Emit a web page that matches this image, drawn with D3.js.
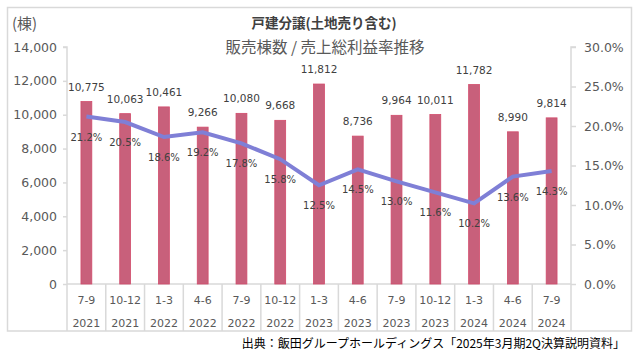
<!DOCTYPE html>
<html><head><meta charset="utf-8">
<script src="https://cdn.jsdelivr.net/npm/d3@7"></script>
<style>body{margin:0;background:#fff;} svg{display:block;}</style>
</head><body>
<svg id="c" width="640" height="360"></svg>
<script>
const periods = ["7-9","10-12","1-3","4-6","7-9","10-12","1-3","4-6","7-9","10-12","1-3","4-6","7-9"];
const years = ["2021","2021","2022","2022","2022","2022","2023","2023","2023","2023","2024","2024","2024"];
const units = [10775,10063,10461,9266,10080,9668,11812,8736,9964,10011,11782,8990,9814];
const margin = [21.2,20.5,18.6,19.2,17.8,15.8,12.5,14.5,13.0,11.6,10.2,13.6,14.3];
const leftTicks = [0,2000,4000,6000,8000,10000,12000,14000];
const rightTicks = [0,5,10,15,20,25,30];

const svg = d3.select("#c");
const font = "'DejaVu Sans', Verdana, sans-serif";
const jp = "'Noto Sans CJK JP', sans-serif";
const L = 67, R = 571, T = 47, B = 284, BOT = 331;
const idx = d3.range(units.length);

svg.append("rect").attr("x",7.5).attr("y",7.5).attr("width",624).attr("height",323.5)
  .attr("fill","#fff").attr("stroke","#d9d9d9").attr("stroke-width",1.5);

const x = d3.scaleBand().domain(idx).range([L,R]).paddingInner(0.72).paddingOuter(0.36);
const xb = d3.scaleBand().domain(idx).range([L,R]);
const y = d3.scaleLinear().domain([0,14000]).range([B,T]);
const y2 = d3.scaleLinear().domain([0,30]).range([B,T]);

// left axis
const la = svg.append("g").attr("transform",`translate(${L},0)`)
  .call(d3.axisLeft(y).tickValues(leftTicks).tickFormat(d3.format(",")).tickSize(4).tickPadding(6));
la.select(".domain").attr("stroke","#d9d9d9").attr("stroke-width",1.5).attr("d",`M-4,${T}H0V${BOT}`);
la.selectAll(".tick line").attr("stroke","#d9d9d9").attr("stroke-width",1.5);
la.selectAll(".tick text").attr("fill","#595959").attr("font-size","12.5px").attr("font-family",font);

// right axis
const ra = svg.append("g").attr("transform",`translate(${R},0)`)
  .call(d3.axisRight(y2).tickValues(rightTicks).tickFormat(d=>d3.format(".1f")(d)+"%").tickSize(5).tickPadding(8));
ra.select(".domain").attr("stroke","#d9d9d9").attr("stroke-width",1.5).attr("d",`M5,${T}H0V${BOT}`);
ra.selectAll(".tick line").attr("stroke","#d9d9d9").attr("stroke-width",1.5);
ra.selectAll(".tick text").attr("fill","#595959").attr("font-size","12.5px").attr("font-family",font);

// category axis
svg.append("line").attr("x1",L).attr("x2",R).attr("y1",B).attr("y2",B).attr("stroke","#d9d9d9").attr("stroke-width",1.5);
svg.selectAll("line.sep").data(idx.slice(1)).enter().append("line")
  .attr("x1",d=>xb(d)).attr("x2",d=>xb(d)).attr("y1",B).attr("y2",BOT)
  .attr("stroke","#d9d9d9").attr("stroke-width",1.5);
svg.selectAll("text.p").data(idx).enter().append("text")
  .attr("x",d=>xb(d)+xb.bandwidth()/2).attr("y",304).attr("text-anchor","middle")
  .attr("font-size","11px").attr("font-family",font).attr("fill","#595959").text(d=>periods[d]);
svg.selectAll("text.yr").data(idx).enter().append("text")
  .attr("x",d=>xb(d)+xb.bandwidth()/2).attr("y",327).attr("text-anchor","middle")
  .attr("font-size","11px").attr("font-family",font).attr("fill","#595959").text(d=>years[d]);

// bars
svg.selectAll("rect.bar").data(idx).enter().append("rect")
  .attr("x",d=>x(d)).attr("width",x.bandwidth()).attr("y",d=>y(units[d])).attr("height",d=>B-y(units[d]))
  .attr("fill","#c8607b").attr("stroke","#d24c6c").attr("stroke-width",0.8);
svg.selectAll("text.bv").data(idx).enter().append("text")
  .attr("x",d=>xb(d)+xb.bandwidth()/2).attr("y",d=>y(units[d])-11).attr("text-anchor","middle")
  .attr("font-size","10.5px").attr("font-family",font).attr("fill","#404040").text(d=>d3.format(",")(units[d]));

// line
const line = d3.line().x(d=>xb(d)+xb.bandwidth()/2).y(d=>y2(margin[d]));
svg.append("path").datum(idx).attr("d",line).attr("fill","none").attr("stroke","#7f7fd6")
  .attr("stroke-width",4).attr("stroke-linejoin","miter");
svg.selectAll("text.pv").data(idx).enter().append("text")
  .attr("x",d=>xb(d)+xb.bandwidth()/2).attr("y",d=>y2(margin[d])+24).attr("text-anchor","middle")
  .attr("font-size","10px").attr("font-family",font).attr("fill","#404040").text(d=>d3.format(".1f")(margin[d])+"%");

// titles
svg.append("text").attr("x",324).attr("y",28).attr("text-anchor","middle").attr("font-size","13.5px")
  .attr("font-weight","bold").attr("font-family",jp).attr("fill","#404040").text("戸建分譲(土地売り含む)");
svg.append("text").attr("x",325).attr("y",53).attr("text-anchor","middle").attr("font-size","15.5px")
  .attr("font-family",jp).attr("fill","#595959").text("販売棟数 / 売上総利益率推移");
svg.append("text").attr("x",12).attr("y",29).attr("font-size","15px")
  .attr("font-family",jp).attr("fill","#595959").text("(棟)");
svg.append("text").attr("x",625).attr("y",348).attr("text-anchor","end").attr("font-size","12px")
  .attr("font-family",jp).attr("fill","#000").text("出典：飯田グループホールディングス「2025年3月期2Q決算説明資料」");
</script>
</body></html>
